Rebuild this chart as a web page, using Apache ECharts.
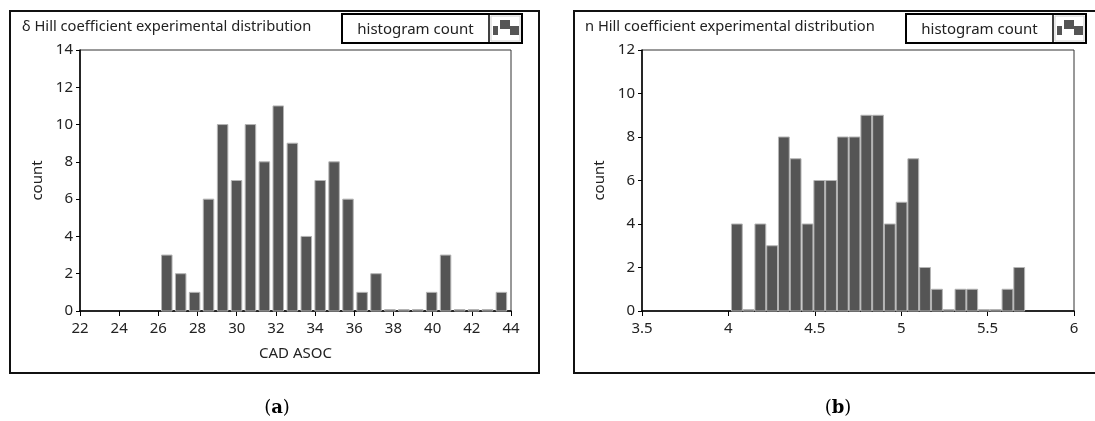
<!DOCTYPE html>
<html>
<head>
<meta charset="utf-8">
<script src="https://cdn.jsdelivr.net/npm/echarts@6/dist/echarts.min.js"></script>
<style>
  html, body { margin: 0; padding: 0; background: #fff; }
  #chart { width: 1095px; height: 421px; }
</style>
</head>
<body>
<div id="chart"></div>
<script>
// δ Hill coefficient histogram (CAD ASOC): bin centres and counts
const deltaBinCenters = [26.43, 27.14, 27.85, 28.56, 29.28, 29.99, 30.70, 31.41, 32.12, 32.84,
                         33.55, 34.26, 34.97, 35.68, 36.40, 37.11, 37.82, 38.53, 39.24, 39.95,
                         40.66, 41.38, 42.09, 42.80, 43.51];
const deltaCounts = [3, 2, 1, 6, 10, 7, 10, 8, 11, 9,
                     4, 7, 8, 6, 1, 2, 0, 0, 0, 1,
                     3, 0, 0, 0, 1];

// n Hill coefficient histogram: bin centres and counts
const nBinCenters = [4.049, 4.117, 4.185, 4.253, 4.321, 4.389, 4.458, 4.526, 4.594, 4.662,
                     4.730, 4.798, 4.866, 4.934, 5.002, 5.070, 5.138, 5.207, 5.275, 5.343,
                     5.411, 5.479, 5.547, 5.615, 5.683];
const nCounts = [4, 0, 4, 3, 8, 7, 4, 6, 6, 8,
                 8, 9, 9, 4, 5, 7, 2, 1, 0, 1,
                 1, 0, 0, 1, 2];

const panelTitles = ['δ Hill coefficient experimental distribution', 'n Hill coefficient experimental distribution'];
const legendLabel = 'histogram count';
const xAxisNames = ['CAD ASOC', ''];
const yAxisName = 'count';
const captions = ['a', 'b'];

const FONT = '"Noto Sans", "DejaVu Sans", sans-serif';
const TEXT = '#222';
const BAR_FILL = '#555555';
const BAR_EDGE = '#b4b4b4';

const chart = echarts.init(document.getElementById('chart'), null, { renderer: 'canvas' });

function pairs(xs, ys) { return xs.map((x, i) => [x, ys[i]]); }

// Histogram bars: fixed pixel width, empty bins keep a thin sliver on the baseline
function histBars(barPx) {
  return function (params, api) {
    const x = api.value(0);
    const base = api.coord([x, 0]);
    const top = api.coord([x, api.value(1)]);
    let h = base[1] - top[1];
    if (h < 1.5) h = 1.5;
    return {
      type: 'rect',
      shape: { x: base[0] - barPx / 2, y: base[1] - h, width: barPx, height: h },
      style: { fill: BAR_FILL, stroke: BAR_EDGE, lineWidth: 1 }
    };
  };
}

function xAxisCfg(gridIndex, min, max, interval, name) {
  return {
    type: 'value', gridIndex, min, max, interval,
    name, nameLocation: 'middle', nameGap: 35,
    nameTextStyle: { fontFamily: FONT, fontSize: 15, color: TEXT },
    axisLine: { show: true, onZero: false, lineStyle: { color: '#000', width: 1.5 } },
    axisTick: { show: true, length: 5, lineStyle: { color: '#000', width: 1 } },
    axisLabel: { fontFamily: FONT, fontSize: 15, color: TEXT, margin: 10 },
    splitLine: { show: false }
  };
}

function yAxisCfg(gridIndex, max) {
  return {
    type: 'value', gridIndex, min: 0, max, interval: 2,
    name: yAxisName, nameLocation: 'middle', nameGap: 35, nameRotate: 90,
    nameTextStyle: { fontFamily: FONT, fontSize: 15, color: TEXT },
    axisLine: { show: true, lineStyle: { color: '#000', width: 1.5 } },
    axisTick: { show: true, length: 4, lineStyle: { color: '#000', width: 1 } },
    axisLabel: { fontFamily: FONT, fontSize: 15, color: TEXT, margin: 7 },
    splitLine: { show: false }
  };
}

// Legend badge: text cell plus a small stepped-square swatch cell
function legendBadge(x) {
  const y = 14, w = 180, h = 29, iconW = 33;
  const ix = x + w - iconW;
  return [
    { type: 'rect', shape: { x, y, width: w, height: h }, style: { fill: '#fff', stroke: '#000', lineWidth: 2 } },
    { type: 'line', shape: { x1: ix, y1: y, x2: ix, y2: y + h }, style: { stroke: '#000', lineWidth: 1.5 } },
    { type: 'rect', shape: { x: ix + 2, y: y + 2, width: iconW - 4, height: h - 4 }, style: { fill: '#fff', stroke: '#d0d0d0', lineWidth: 1 } },
    { type: 'rect', shape: { x: ix + 4, y: y + 12, width: 5, height: 9 }, style: { fill: BAR_FILL } },
    { type: 'rect', shape: { x: ix + 11, y: y + 6, width: 10, height: 9 }, style: { fill: BAR_FILL } },
    { type: 'rect', shape: { x: ix + 21, y: y + 12, width: 9, height: 9 }, style: { fill: BAR_FILL } },
    { type: 'text', x: x + (w - iconW) / 2, y: y + h / 2 + 1,
      style: { text: legendLabel, font: '15px ' + FONT, fill: TEXT, align: 'center', verticalAlign: 'middle' } }
  ];
}

function caption(x, letter) {
  return {
    type: 'text', x, y: 408,
    style: {
      text: '{p|(}{b|' + letter + '}{p|)}',
      align: 'center', verticalAlign: 'middle',
      rich: {
        p: { fontFamily: '"DejaVu Serif", "Liberation Serif", serif', fontSize: 18, fill: '#000', color: '#000' },
        b: { fontFamily: '"DejaVu Serif", "Liberation Serif", serif', fontSize: 18, fontWeight: 'bold', fill: '#000', color: '#000' }
      }
    }
  };
}

const option = {
  animation: false,
  backgroundColor: '#fff',
  title: [
    { text: panelTitles[0], left: 17, top: 14, textStyle: { fontFamily: FONT, fontSize: 14.7, fontWeight: 'normal', color: TEXT } },
    { text: panelTitles[1], left: 580, top: 14, textStyle: { fontFamily: FONT, fontSize: 14.7, fontWeight: 'normal', color: TEXT } }
  ],
  grid: [
    { left: 80, top: 50, width: 431, height: 261, show: true, borderColor: '#333', borderWidth: 1, backgroundColor: 'transparent' },
    { left: 642, top: 50, width: 432, height: 261, show: true, borderColor: '#333', borderWidth: 1, backgroundColor: 'transparent' }
  ],
  xAxis: [
    xAxisCfg(0, 22, 44, 2, xAxisNames[0]),
    xAxisCfg(1, 3.5, 6, 0.5, xAxisNames[1])
  ],
  yAxis: [
    yAxisCfg(0, 14),
    yAxisCfg(1, 12)
  ],
  series: [
    { type: 'custom', xAxisIndex: 0, yAxisIndex: 0, renderItem: histBars(10.5), data: pairs(deltaBinCenters, deltaCounts), encode: { x: 0, y: 1 } },
    { type: 'custom', xAxisIndex: 1, yAxisIndex: 1, renderItem: histBars(10.8), data: pairs(nBinCenters, nCounts), encode: { x: 0, y: 1 } }
  ],
  graphic: [
    // panel frames
    { type: 'rect', shape: { x: 10, y: 11, width: 529, height: 362 }, style: { fill: 'none', stroke: '#111', lineWidth: 2 } },
    { type: 'rect', shape: { x: 574, y: 11, width: 540, height: 362 }, style: { fill: 'none', stroke: '#111', lineWidth: 2 } },
    ...legendBadge(342),
    ...legendBadge(906),
    caption(277, captions[0]),
    caption(838, captions[1])
  ]
};

chart.setOption(option);
</script>
</body>
</html>
